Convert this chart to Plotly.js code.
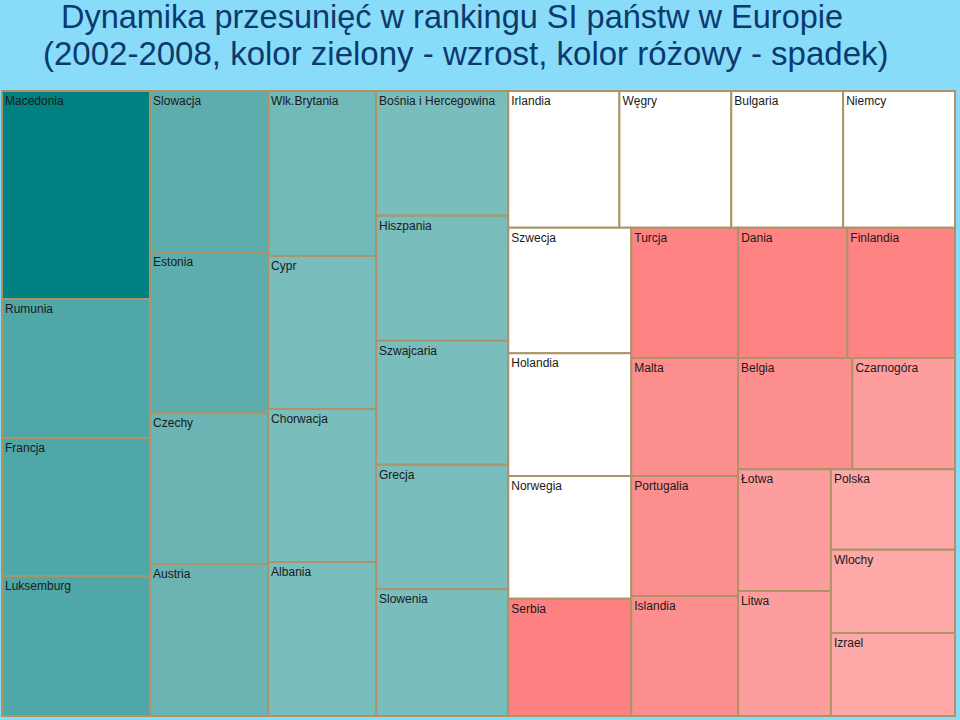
<!DOCTYPE html>
<html>
<head>
<meta charset="utf-8">
<script src="https://cdn.plot.ly/plotly-3.0.1.min.js"></script>
<style>
  html, body { margin: 0; padding: 0; background: #88dcf9; }
  #chart { width: 960px; height: 720px; }
</style>
</head>
<body>
<div id="chart"></div>
<script>
// ---- data ----
// countries (leaf order inside each block)
const countries = [
  'Macedonia', 'Rumunia', 'Francja', 'Luksemburg',
  'Slowacja', 'Estonia', 'Czechy', 'Austria',
  'Wlk.Brytania', 'Cypr', 'Chorwacja', 'Albania',
  'Bośnia i Hercegowina', 'Hiszpania', 'Szwajcaria', 'Grecja', 'Slowenia',
  'Irlandia', 'Węgry', 'Bulgaria', 'Niemcy',
  'Szwecja', 'Holandia', 'Norwegia', 'Serbia',
  'Turcja', 'Dania', 'Finlandia',
  'Malta', 'Portugalia', 'Islandia',
  'Belgia', 'Czarnogóra',
  'Łotwa', 'Litwa',
  'Polska', 'Wlochy', 'Izrael'
];
// block each country belongs to
const countryBlock = [
  'C1', 'C1', 'C1', 'C1',
  'C2', 'C2', 'C2', 'C2',
  'C3', 'C3', 'C3', 'C3',
  'C4', 'C4', 'C4', 'C4', 'C4',
  'RT', 'RT', 'RT', 'RT',
  'S', 'S', 'S', 'S',
  'TR', 'TR', 'TR',
  'M', 'M', 'M',
  'BR', 'BR',
  'L', 'L',
  'P', 'P', 'P'
];
// tile sizes (relative area)
const tileSize = [
  308, 206, 204, 207,
  190, 190, 178, 179,
  178, 165, 165, 166,
  165, 165, 164, 164, 168,
  152, 153, 153, 153,
  154, 151, 151, 144,
  139, 142, 140,
  126, 128, 128,
  127, 114,
  113, 116,
  100, 103, 103
];
// shade of change: positive = rise (green), 0 = none (white), negative = fall (pink)
const changeShade = [
  6, 5, 5, 5,
  4, 4, 3, 3,
  2, 1, 1, 1,
  1, 1, 1, 1, 1,
  0, 0, 0, 0,
  0, 0, 0, -5,
  -4, -4, -4,
  -3, -3, -3,
  -3, -2,
  -2, -2,
  -1, -1, -1
];
// grouping blocks [id, parent]
const blocks = [
  ['root', ''],
  ['C1', 'root'], ['C2', 'root'], ['C3', 'root'], ['C4', 'root'], ['R', 'root'],
  ['RT', 'R'], ['RB', 'R'],
  ['S', 'RB'], ['T', 'RB'],
  ['TR', 'T'], ['TB', 'T'],
  ['M', 'TB'], ['B', 'TB'],
  ['BR', 'B'], ['BB', 'B'],
  ['L', 'BB'], ['P', 'BB']
];
const titleLines = [
  'Dynamika przesunięć w rankingu SI państw w Europie',
  '(2002-2008, kolor zielony - wzrost, kolor różowy - spadek)'
];

// ---- styles ----
const palette = {
  '6': '#008080', '5': '#4fa7a7', '4': '#5eadad', '3': '#6bb4b3',
  '2': '#72b9b9', '1': '#79bdbd', '0': '#ffffff',
  '-1': '#fea8a8', '-2': '#fe9d9d', '-3': '#fd8e8e', '-4': '#fe8383', '-5': '#fe8080'
};
const borderColor = '#ad9468';
const fontFamily = 'Liberation Sans, Arial, sans-serif';

const ids = [], labels = [], parents = [], values = [], colors = [], lineW = [];
blocks.forEach(b => {
  ids.push(b[0]); labels.push(''); parents.push(b[1]); values.push(0);
  colors.push(borderColor); lineW.push(0);
});
countries.forEach((c, i) => {
  ids.push('leaf_' + i); labels.push(c); parents.push(countryBlock[i]);
  values.push(tileSize[i]); colors.push(palette[String(changeShade[i])]); lineW.push(2);
});

const trace = {
  type: 'treemap',
  ids: ids, labels: labels, parents: parents, values: values,
  branchvalues: 'remainder',
  sort: false,
  tiling: { packing: 'slice-dice', pad: 0 },
  marker: {
    colors: colors,
    line: { color: borderColor, width: lineW },
    pad: { t: 0, l: 0, r: 0, b: 0 },
    depthfade: false
  },
  leaf: { opacity: 1 },
  pathbar: { visible: false },
  textinfo: 'label',
  textposition: 'top left',
  textfont: { family: fontFamily, size: 12, color: '#1a1a1a' },
  hoverinfo: 'none',
  domain: { x: [2 / 960, 955 / 960], y: [1 - 716 / 720, 1 - 91 / 720] }
};

const layout = {
  width: 960, height: 720,
  paper_bgcolor: '#88dcf9',
  margin: { l: 0, r: 0, t: 0, b: 0 },
  showlegend: false,
  title: {
    text: titleLines[0],
    font: { family: fontFamily, size: 32.5, color: '#0b3a6e' },
    x: 452 / 960, xanchor: 'center', xref: 'container',
    y: 1 - 17 / 720, yanchor: 'middle', yref: 'container'
  },
  annotations: [{
    text: titleLines[1],
    font: { family: fontFamily, size: 33, color: '#0b3a6e' },
    showarrow: false,
    xref: 'paper', yref: 'paper',
    x: 466 / 960, xanchor: 'center',
    y: 1 - 54 / 720, yanchor: 'middle'
  }]
};

Plotly.newPlot('chart', [trace], layout, { displayModeBar: false, staticPlot: true });
</script>
</body>
</html>
